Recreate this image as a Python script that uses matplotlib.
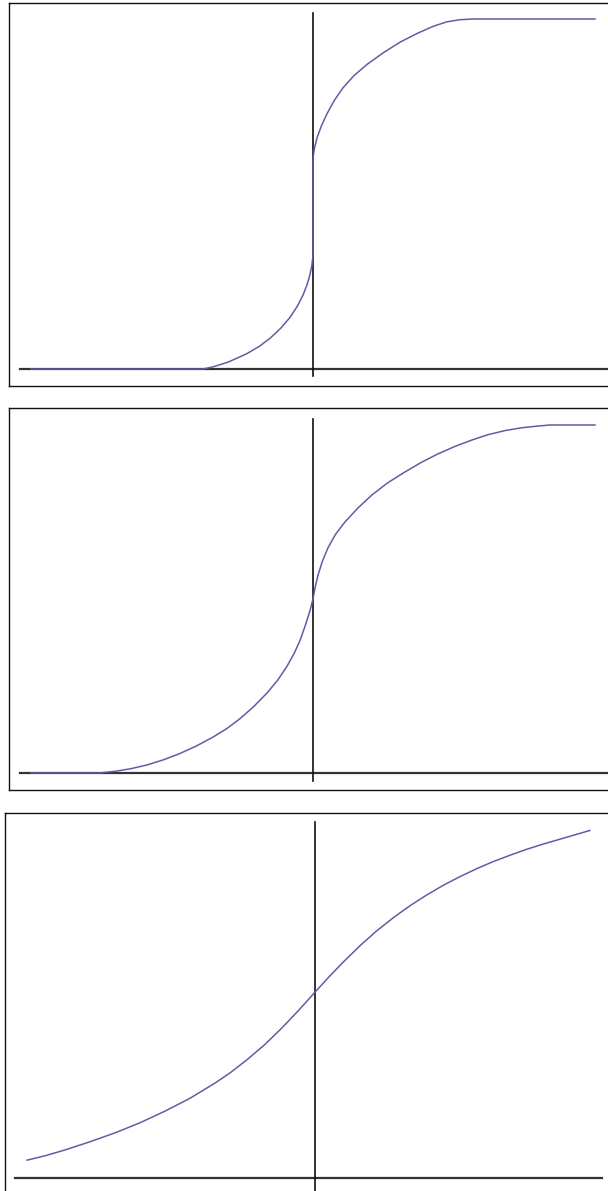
import matplotlib
matplotlib.use("Agg")
import matplotlib.pyplot as plt

W, H = 608, 1191

# curve points (x: vertical axis at 0, y: horizontal axis at 0)
p1_x = [-1.0, -0.39, -0.355, -0.30, -0.234, -0.19, -0.152, -0.115, -0.082, -0.055,
        -0.035, -0.021, -0.011, -0.004, 0.0, 0.0, 0.005, 0.014, 0.03, 0.05, 0.076,
        0.106, 0.145, 0.191, 0.25, 0.309, 0.37, 0.426, 0.475, 0.521, 0.567, 1.0]
p1_y = [0.0, 0.0, 0.006, 0.020, 0.044, 0.065, 0.088, 0.116, 0.147, 0.180,
        0.212, 0.241, 0.269, 0.296, 0.324, 0.603, 0.630, 0.660, 0.695, 0.730, 0.768,
        0.803, 0.838, 0.870, 0.904, 0.934, 0.959, 0.979, 0.992, 0.998, 1.0, 1.0]

p2_x = [-1.0, -0.76, -0.70, -0.645, -0.589, -0.53, -0.472, -0.415, -0.355, -0.305,
        -0.259, -0.21, -0.163, -0.125, -0.092, -0.066, -0.046, -0.026, -0.011, 0.0,
        0.008, 0.018, 0.033, 0.053, 0.08, 0.113, 0.16, 0.209, 0.265, 0.326, 0.385,
        0.443, 0.505, 0.564, 0.62, 0.681, 0.74, 0.798, 0.84, 1.0]
p2_y = [0.0, 0.0, 0.005, 0.0125, 0.023, 0.038, 0.056, 0.077, 0.103, 0.128,
        0.156, 0.191, 0.230, 0.267, 0.307, 0.345, 0.381, 0.427, 0.466, 0.50,
        0.535, 0.569, 0.608, 0.647, 0.686, 0.721, 0.762, 0.799, 0.834, 0.865, 0.893,
        0.917, 0.939, 0.957, 0.972, 0.984, 0.992, 0.997, 1.0, 1.0]

p3_x = [-1.021, -0.955, -0.887, -0.8, -0.709, -0.62, -0.532, -0.445, -0.355, -0.3,
        -0.238, -0.177, -0.117, -0.058, 0.0, 0.05, 0.099, 0.16, 0.22, 0.28, 0.337,
        0.395, 0.454, 0.514, 0.574, 0.632, 0.691, 0.75, 0.809, 0.89, 0.975]
p3_y = [0.051, 0.064, 0.080, 0.103, 0.129, 0.158, 0.191, 0.227, 0.271, 0.301,
        0.340, 0.382, 0.429, 0.479, 0.531, 0.575, 0.616, 0.664, 0.707, 0.745, 0.778,
        0.808, 0.836, 0.861, 0.884, 0.904, 0.922, 0.939, 0.954, 0.973, 0.993]

curve_color = "#5e5ea6"

# panel boxes in pixels: left, top, right, bottom, and where the axes cross
panels = [
    dict(box=(9, 3, 620, 386), origin=(313, 369), sx=282, sy=350,
         hx=(20, 620), vy=(13, 376), x=p1_x, y=p1_y),
    dict(box=(9, 408, 620, 790), origin=(313, 773), sx=282, sy=348,
         hx=(20, 620), vy=(419, 781), x=p2_x, y=p2_y),
    dict(box=(5, 813, 620, 1200), origin=(315, 1178), sx=282, sy=350,
         hx=(15, 602), vy=(822, 1200), x=p3_x, y=p3_y),
]

fig = plt.figure(figsize=(W / 100, H / 100), dpi=100)

for p in panels:
    l, t, r, b = p["box"]
    ox, oy = p["origin"]
    sx, sy = p["sx"], p["sy"]
    ax = fig.add_axes([l / W, 1 - b / H, (r - l) / W, (b - t) / H])
    ax.set_xlim((l - ox) / sx, (r - ox) / sx)
    ax.set_ylim((oy - b) / sy, (oy - t) / sy)
    ax.set_xticks([])
    ax.set_yticks([])
    for s in ax.spines.values():
        s.set_linewidth(1.0)
        s.set_color("#111111")

    # axes cross
    ax.plot([(p["hx"][0] - ox) / sx, (p["hx"][1] - ox) / sx], [0, 0],
            color="#333333", lw=1.6, zorder=2)
    ax.plot([0, 0], [(oy - p["vy"][1]) / sy, (oy - p["vy"][0]) / sy],
            color="#111111", lw=1.2, zorder=2)

    ax.plot(p["x"], p["y"], color=curve_color, lw=1.1, zorder=3,
            solid_joinstyle="round")

fig.savefig("out.png", dpi=100)
plt.close(fig)
